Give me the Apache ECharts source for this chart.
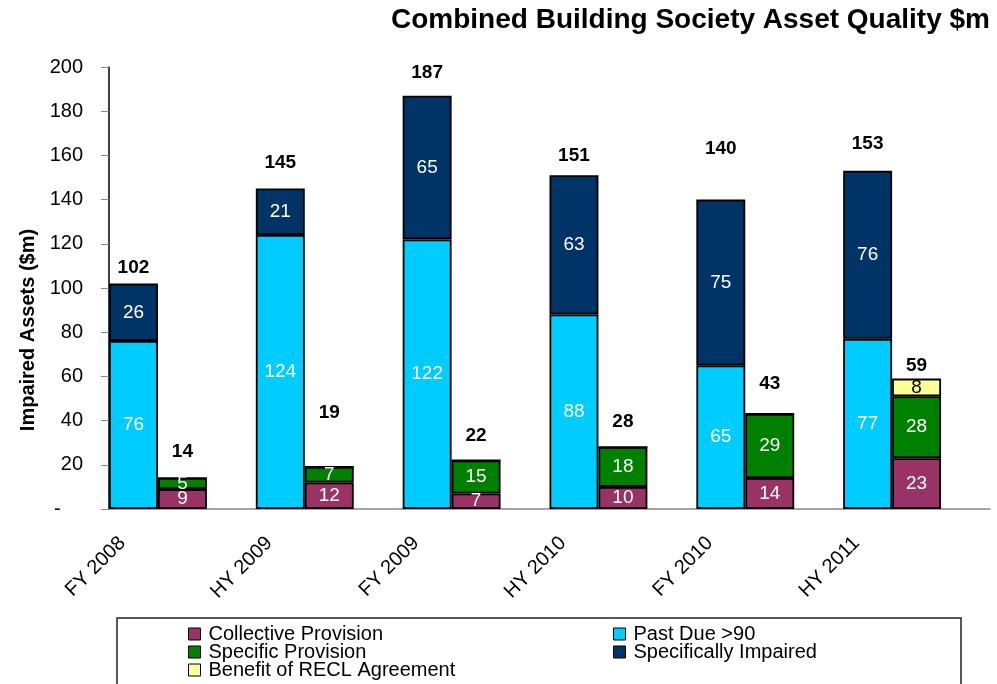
<!DOCTYPE html>
<html>
<head>
<meta charset="utf-8">
<script src="https://cdn.jsdelivr.net/npm/echarts@6/dist/echarts.min.js"></script>
<style>
  html, body { margin: 0; padding: 0; background: #fff; }
  #chart { width: 997px; height: 684px; }
</style>
</head>
<body>
<div id="chart"></div>
<script>
// periods
const categories = ["FY 2008", "HY 2009", "FY 2009", "HY 2010", "FY 2010", "HY 2011"];

// impaired assets stack
const pastDue = [76, 124, 122, 88, 65, 77];
const specImpaired = [26, 21, 65, 63, 75, 76];
const totalImpaired = [102, 145, 187, 151, 140, 153];

// provisions stack
const collective = [9, 12, 7, 10, 14, 23];
const specProvision = [5, 7, 15, 18, 29, 28];
const reclBenefit = [0, 0, 0, 0, 0, 8];
const totalProvision = [14, 19, 22, 28, 43, 59];

const yTicks = { min: 0, max: 200, interval: 20 };

// extra lift (px) of the total labels, the original has them placed by hand
const liftImpaired = [1, 11, 8, 5, 36, 13];
const liftProvision = [12, 40, 10, 11, 16, -2];

const FONT = "Liberation Sans, Arial, sans-serif";

function segLabel(color) {
  return {
    show: true,
    position: "inside",
    color: color,
    fontSize: 19,
    fontFamily: FONT,
    formatter: p => (p.value ? p.value : "")
  };
}

function seg(name, stack, data, color, labelColor) {
  return {
    name: name,
    type: "bar",
    stack: stack,
    data: data,
    barGap: "0%",
    barCategoryGap: "0%",
    itemStyle: { color: color, borderColor: "#000", borderWidth: 1.8 },
    label: segLabel(labelColor),
    emphasis: { disabled: true }
  };
}

function totalSeries(stack, totals, lift) {
  return {
    name: "total-" + stack,
    type: "bar",
    stack: stack,
    data: totals.map((t, i) => ({ value: 0, label: { offset: [0, -lift[i]] } })),
    itemStyle: { color: "transparent", borderWidth: 0 },
    label: {
      show: true,
      position: "top",
      distance: 5,
      color: "#000",
      fontSize: 19,
      fontWeight: "bold",
      fontFamily: FONT,
      formatter: p => totals[p.dataIndex]
    },
    emphasis: { disabled: true }
  };
}

const legendBase = {
  orient: "vertical",
  icon: "rect",
  padding: 0,
  itemWidth: 12,
  itemHeight: 12,
  itemGap: -2,
  selectedMode: false,
  itemStyle: { borderColor: "#000", borderWidth: 1 },
  textStyle: { fontSize: 20, fontFamily: FONT, color: "#000", lineHeight: 18, padding: [0, 0, 0, 3] }
};

const chart = echarts.init(document.getElementById("chart"));
chart.setOption({
  animation: false,
  backgroundColor: "#fff",
  title: {
    text: "Combined Building Society Asset Quality $m",
    right: 2,
    top: 1,
    textStyle: { fontSize: 28, fontWeight: "bold", fontFamily: FONT, color: "#000" }
  },
  legend: [
    Object.assign({}, legendBase, {
      left: 188, top: 624,
      data: ["Collective Provision", "Specific Provision", "Benefit of RECL Agreement"]
    }),
    Object.assign({}, legendBase, {
      left: 613, top: 624,
      data: ["Past Due >90", "Specifically Impaired"]
    })
  ],
  graphic: [{
    type: "rect",
    shape: { x: 117, y: 618, width: 844, height: 90 },
    style: { fill: "none", stroke: "#222", lineWidth: 1.5 },
    silent: true
  }],
  grid: [
    { left: 109, right: 7, top: 67, bottom: 175 },
    { left: 49, right: 67, top: 67, bottom: 175 }
  ],
  xAxis: [
    {
      type: "category",
      data: categories,
      gridIndex: 0,
      axisLine: { lineStyle: { color: "#888", width: 1.5 } },
      axisTick: { show: false },
      axisLabel: { show: false }
    },
    {
      type: "category",
      data: categories,
      gridIndex: 1,
      axisLine: { show: false },
      axisTick: { show: false },
      axisLabel: { rotate: 45, margin: 31, fontSize: 20, fontFamily: FONT, color: "#000" }
    }
  ],
  yAxis: [
    {
      type: "value",
      gridIndex: 0,
      min: yTicks.min,
      max: yTicks.max,
      interval: yTicks.interval,
      name: "Impaired Assets ($m)",
      nameLocation: "middle",
      nameGap: 70,
      nameTextStyle: { fontSize: 20, fontWeight: "bold", fontFamily: FONT, color: "#000", padding: [0, 84, 0, 0] },
      axisLine: { show: true, lineStyle: { color: "#000", width: 1.5 } },
      axisTick: { show: true, length: 8, lineStyle: { color: "#888" } },
      splitLine: { show: false },
      axisLabel: {
        margin: 26,
        fontSize: 20,
        fontFamily: FONT,
        color: "#000",
        formatter: v => (v === 0 ? "-    " : v)
      }
    },
    { type: "value", gridIndex: 1, min: 0, max: 1, show: false }
  ],
  series: [
    seg("Past Due >90", "a", pastDue, "#00CCFF", "#fff"),
    seg("Specifically Impaired", "a", specImpaired, "#003366", "#fff"),
    totalSeries("a", totalImpaired, liftImpaired),
    seg("Collective Provision", "b", collective, "#993366", "#fff"),
    seg("Specific Provision", "b", specProvision, "#008000", "#fff"),
    seg("Benefit of RECL Agreement", "b", reclBenefit, "#FFFF99", "#000"),
    totalSeries("b", totalProvision, liftProvision),
    { name: "spacer", type: "bar", stack: "c", data: categories.map(() => null) }
  ]
});
</script>
</body>
</html>
